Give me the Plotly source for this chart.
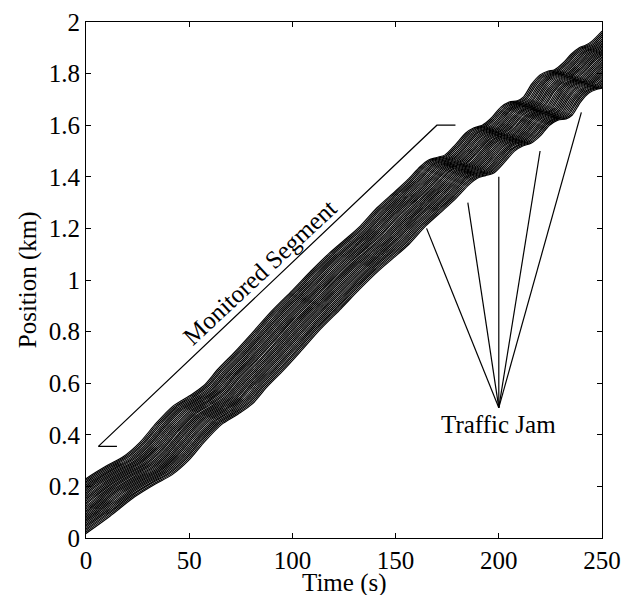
import plotly.graph_objects as go

# ---------------- data ----------------
# Lead (top-most) vehicle trajectory: time (s) and position (km)
lead_time = [-25, -12, 0, 10, 18, 26, 34, 42, 50, 57, 64, 72, 80, 90, 100,
             109, 118, 126, 133, 141, 150, 156, 162, 166, 170, 174, 179, 184,
             188, 192, 196, 201, 205, 209, 212, 216, 220, 224, 227, 231, 235,
             239, 242, 245, 250]
lead_pos = [0.08, 0.155, 0.23, 0.28, 0.315, 0.37, 0.445, 0.51, 0.55, 0.59,
            0.655, 0.72, 0.79, 0.88, 0.96, 1.035, 1.105, 1.16, 1.21, 1.28,
            1.345, 1.39, 1.44, 1.465, 1.475, 1.485, 1.525, 1.57, 1.59, 1.60,
            1.625, 1.67, 1.69, 1.695, 1.71, 1.76, 1.795, 1.81, 1.815, 1.84,
            1.875, 1.90, 1.91, 1.925, 1.965]

# Following vehicles: time headway (s) and spacing offset (km) to the vehicle ahead
time_gaps = [0.62, 0.71, 0.58, 0.80, 0.66, 0.69, 0.55, 0.74, 0.63, 0.70, 0.77,
             0.60, 0.68, 0.65, 0.72, 0.57, 0.81, 0.64, 0.67, 0.70, 0.59, 0.75,
             0.66, 0.62, 0.73, 0.68, 0.61, 0.78, 0.64, 0.69, 0.66, 0.71, 0.58,
             0.74, 0.67]
space_gaps = [0.0021, 0.0018, 0.0024, 0.0019, 0.0020, 0.0017, 0.0023, 0.0020,
              0.0022, 0.0018, 0.0019, 0.0021, 0.0016, 0.0024, 0.0020, 0.0019,
              0.0022, 0.0018, 0.0021, 0.0020, 0.0023, 0.0017, 0.0019, 0.0022,
              0.0020, 0.0018, 0.0021, 0.0019, 0.0024, 0.0017, 0.0020, 0.0022,
              0.0019, 0.0021, 0.0020]

# "Monitored Segment" bracket
bracket_time = [15, 6, 170, 179]
bracket_pos = [0.355, 0.355, 1.60, 1.60]

# "Traffic Jam" pointer lines
jam_apex = (200, 0.505)
jam_tips_time = [165, 185, 200, 220, 240]
jam_tips_pos = [1.20, 1.30, 1.40, 1.50, 1.65]

x_ticks = [0, 50, 100, 150, 200, 250]
y_ticks = [0, 0.2, 0.4, 0.6, 0.8, 1, 1.2, 1.4, 1.6, 1.8, 2]
y_tick_text = ["0", "0.2", "0.4", "0.6", "0.8", "1", "1.2", "1.4", "1.6", "1.8", "2"]

FONT = "Liberation Serif"
FS = 25

fig = go.Figure()

# trajectories
line_style = dict(color="black", width=1.15, shape="spline", smoothing=0.8)
fig.add_trace(go.Scatter(x=lead_time, y=lead_pos, mode="lines", line=line_style,
                         hoverinfo="skip", showlegend=False))
shift_t, shift_x = 0.0, 0.0
for tg, sg in zip(time_gaps, space_gaps):
    shift_t += tg
    shift_x += sg
    fig.add_trace(go.Scatter(x=[t + shift_t for t in lead_time],
                             y=[p - shift_x for p in lead_pos],
                             mode="lines", line=line_style,
                             hoverinfo="skip", showlegend=False))

# bracket
fig.add_trace(go.Scatter(x=bracket_time, y=bracket_pos, mode="lines",
                         line=dict(color="black", width=1.2),
                         hoverinfo="skip", showlegend=False))

# jam pointers
jx, jy = [], []
for tt, tp in zip(jam_tips_time, jam_tips_pos):
    jx += [jam_apex[0], tt, None]
    jy += [jam_apex[1], tp, None]
fig.add_trace(go.Scatter(x=jx, y=jy, mode="lines",
                         line=dict(color="black", width=1.2),
                         hoverinfo="skip", showlegend=False))

fig.add_annotation(x=84, y=1.03, text="Monitored Segment", textangle=-43,
                   showarrow=False, font=dict(family=FONT, size=FS, color="black"))
fig.add_annotation(x=200, y=0.44, text="Traffic Jam", showarrow=False,
                   font=dict(family=FONT, size=FS, color="black"))

# axis titles
fig.add_annotation(x=0.5, y=-0.087, xref="paper", yref="paper", text="Time (s)",
                   showarrow=False, xanchor="center", yanchor="middle",
                   font=dict(family=FONT, size=FS, color="black"))
fig.add_annotation(x=-0.112, y=0.5, xref="paper", yref="paper", text="Position (km)",
                   textangle=-90, showarrow=False, xanchor="center", yanchor="middle",
                   font=dict(family=FONT, size=FS, color="black"))

axis_common = dict(showline=True, linecolor="black", linewidth=1, mirror="ticks",
                   ticks="inside", ticklen=5, tickcolor="black", showgrid=False,
                   zeroline=False, automargin=False,
                   tickfont=dict(family=FONT, size=FS, color="black"))

fig.update_xaxes(range=[0, 250], tickvals=x_ticks, **axis_common)
fig.update_yaxes(range=[0, 2], tickvals=y_ticks, ticktext=y_tick_text, **axis_common)

fig.update_layout(width=632, height=595,
                  margin=dict(l=86, r=30, t=22, b=57),
                  paper_bgcolor="white", plot_bgcolor="white",
                  showlegend=False)

fig.write_html("out.html")
